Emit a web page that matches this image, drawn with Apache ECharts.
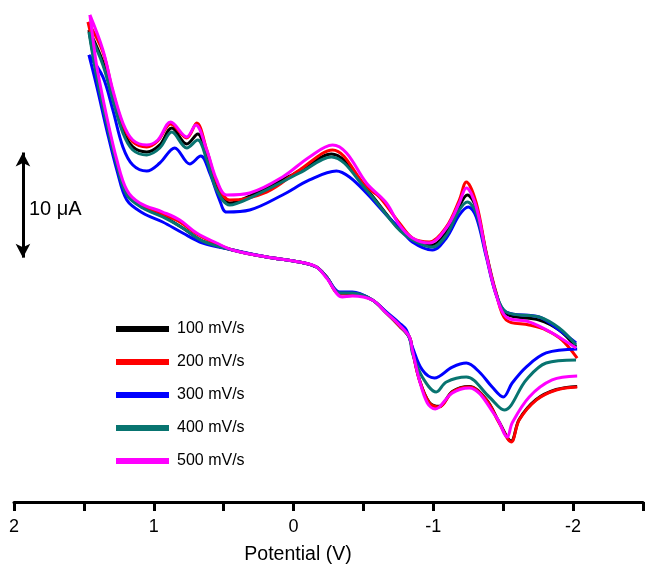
<!DOCTYPE html>
<html>
<head>
<meta charset="utf-8">
<script src="https://cdn.jsdelivr.net/npm/echarts@6/dist/echarts.min.js"></script>
<style>
  html, body { margin: 0; padding: 0; background: #fff; }
  #chart { width: 646px; height: 569px; }
</style>
</head>
<body>
<div id="chart"></div>
<script>
// Cyclic voltammograms at five scan rates. Points are [potential (V), current (µA)].
// Each scan is split into the forward (upper) branch and the return (lower) branch.
const scanRates = ['100 mV/s', '200 mV/s', '300 mV/s', '400 mV/s', '500 mV/s'];
const seriesColors = ['#000000', '#ff0000', '#0000ff', '#087470', '#ff00ff'];

const upper100 = [[1.464,25.91],[1.364,22.86],[1.293,19.53],[1.221,16.39],[1.150,14.78],[1.050,14.30],[0.957,14.97],[0.871,16.58],[0.764,15.06],[0.686,16.01],[0.621,13.83],[0.550,10.88],[0.457,9.45],[0.314,10.11],[-0.043,12.49],[-0.271,14.11],[-0.521,10.78],[-0.736,7.26],[-0.850,6.02],[-0.993,5.45],[-1.093,6.69],[-1.186,9.16],[-1.243,10.21],[-1.307,8.97],[-1.379,4.60],[-1.450,0.79],[-1.521,-1.11],[-1.757,-1.68],[-1.900,-2.64],[-2.021,-4.25]];
const lower100 = [[-2.029,-8.00],[-1.879,-8.30],[-1.736,-9.25],[-1.614,-11.15],[-1.557,-13.20],[-1.471,-11.40],[-1.379,-9.25],[-1.257,-8.00],[-1.136,-8.48],[-1.043,-9.90],[-0.971,-9.52],[-0.900,-7.35],[-0.850,-4.54],[-0.829,-3.30],[-0.757,-2.25],[-0.664,-1.02],[-0.564,0.22],[-0.421,0.88],[-0.329,0.88],[-0.236,2.41],[-0.164,3.36],[-0.043,3.83],[0.193,4.31],[0.436,4.98],[0.650,5.83],[0.793,7.07],[0.936,8.21],[1.079,9.07],[1.193,10.30],[1.264,13.16],[1.336,17.15],[1.407,21.63],[1.464,25.91]];

const upper200 = [[1.471,26.67],[1.364,23.82],[1.293,20.01],[1.221,16.87],[1.150,15.25],[1.050,14.78],[0.971,15.35],[0.879,16.96],[0.764,15.63],[0.693,17.06],[0.621,14.49],[0.550,11.45],[0.457,9.73],[0.193,10.49],[-0.043,12.59],[-0.279,14.49],[-0.521,10.97],[-0.614,10.02],[-0.757,7.55],[-0.850,6.12],[-0.971,5.74],[-1.093,7.17],[-1.186,9.73],[-1.236,11.45],[-1.307,9.45],[-1.379,4.69],[-1.450,0.88],[-1.521,-1.68],[-1.686,-2.16],[-1.807,-2.64],[-1.921,-3.59],[-2.029,-5.30]];
const lower200 = [[-2.029,-8.06],[-1.879,-8.34],[-1.736,-9.30],[-1.614,-11.20],[-1.557,-13.29],[-1.471,-11.48],[-1.379,-9.30],[-1.257,-8.06],[-1.136,-8.53],[-1.043,-9.96],[-0.971,-9.58],[-0.900,-7.39],[-0.850,-4.54],[-0.829,-3.30],[-0.757,-2.25],[-0.664,-1.02],[-0.564,0.22],[-0.421,0.79],[-0.329,0.79],[-0.236,2.41],[-0.164,3.36],[-0.043,3.83],[0.193,4.31],[0.436,4.98],[0.550,5.55],[0.693,6.50],[0.814,7.64],[0.936,8.40],[1.100,9.26],[1.193,10.40],[1.264,13.25],[1.336,17.34],[1.407,21.91],[1.443,24.96],[1.471,26.67]];

const upper300 = [[1.464,23.53],[1.364,21.44],[1.293,18.30],[1.221,14.78],[1.150,13.06],[1.050,12.49],[0.957,13.25],[0.850,14.68],[0.743,13.16],[0.664,13.92],[0.600,12.30],[0.529,9.73],[0.479,8.59],[0.314,8.78],[0.079,10.21],[-0.114,11.64],[-0.307,12.49],[-0.400,11.92],[-0.521,10.40],[-0.664,8.31],[-0.757,7.07],[-0.850,5.74],[-0.993,4.98],[-1.093,6.12],[-1.186,8.31],[-1.250,9.07],[-1.307,8.12],[-1.379,4.31],[-1.450,0.69],[-1.521,-0.92],[-1.757,-1.40],[-1.900,-2.64],[-2.021,-3.87]];
const lower300 = [[-2.029,-4.44],[-1.807,-4.82],[-1.664,-6.16],[-1.564,-7.68],[-1.500,-9.01],[-1.421,-8.06],[-1.329,-6.63],[-1.236,-5.78],[-1.136,-6.16],[-1.007,-7.20],[-0.921,-6.44],[-0.850,-4.25],[-0.807,-2.64],[-0.757,-1.97],[-0.664,-0.92],[-0.564,0.22],[-0.421,0.98],[-0.329,0.98],[-0.236,2.41],[-0.164,3.36],[-0.043,3.83],[0.193,4.31],[0.436,4.98],[0.650,5.64],[0.793,6.59],[0.936,7.64],[1.079,8.50],[1.193,9.73],[1.264,12.59],[1.336,16.39],[1.407,20.49],[1.464,23.53]];

const upper400 = [[1.464,25.72],[1.364,22.58],[1.293,19.25],[1.221,16.11],[1.150,14.49],[1.050,14.02],[0.957,14.68],[0.871,16.20],[0.764,14.68],[0.686,15.44],[0.621,13.54],[0.550,10.69],[0.457,9.26],[0.314,9.92],[-0.043,12.30],[-0.271,13.83],[-0.521,10.69],[-0.736,7.17],[-0.850,5.93],[-0.993,5.26],[-1.093,6.40],[-1.186,8.78],[-1.243,9.54],[-1.307,8.50],[-1.379,4.50],[-1.450,0.79],[-1.521,-0.92],[-1.757,-1.40],[-1.900,-2.45],[-2.021,-4.06]];
const lower400 = [[-2.021,-5.49],[-1.807,-5.78],[-1.664,-7.39],[-1.507,-10.25],[-1.400,-9.01],[-1.236,-7.11],[-1.093,-7.58],[-1.021,-8.53],[-0.921,-7.11],[-0.850,-4.82],[-0.829,-3.40],[-0.757,-2.16],[-0.664,-1.02],[-0.564,0.22],[-0.421,0.88],[-0.329,0.88],[-0.236,2.41],[-0.164,3.36],[-0.043,3.83],[0.193,4.31],[0.436,4.98],[0.650,5.83],[0.793,7.07],[0.936,8.12],[1.079,8.97],[1.193,10.21],[1.264,13.06],[1.336,16.96],[1.407,21.34],[1.464,25.72]];

const upper500 = [[1.457,27.34],[1.364,24.01],[1.293,20.20],[1.221,17.06],[1.150,15.44],[1.050,14.97],[0.971,15.44],[0.879,17.15],[0.764,15.73],[0.700,16.87],[0.621,14.49],[0.550,11.64],[0.479,10.21],[0.314,10.40],[0.079,11.92],[-0.114,13.83],[-0.279,14.97],[-0.379,14.21],[-0.521,11.35],[-0.664,9.45],[-0.757,7.36],[-0.850,6.12],[-0.971,5.64],[-1.093,7.07],[-1.186,9.45],[-1.236,10.88],[-1.307,9.07],[-1.379,4.50],[-1.450,0.69],[-1.521,-1.40],[-1.686,-1.87],[-1.850,-2.92],[-2.021,-4.35]];
const lower500 = [[-2.029,-7.01],[-1.850,-7.39],[-1.686,-9.01],[-1.564,-11.48],[-1.529,-12.82],[-1.450,-10.91],[-1.257,-8.15],[-1.136,-8.63],[-1.043,-9.96],[-1.014,-10.15],[-0.957,-9.58],[-0.900,-7.39],[-0.850,-4.54],[-0.829,-3.30],[-0.757,-2.16],[-0.664,-1.02],[-0.564,0.22],[-0.421,0.60],[-0.350,0.50],[-0.236,2.31],[-0.164,3.36],[-0.043,3.83],[0.193,4.31],[0.436,4.98],[0.550,5.64],[0.693,6.59],[0.814,7.83],[0.936,8.59],[1.100,9.45],[1.193,10.69],[1.264,13.54],[1.336,17.63],[1.407,22.39],[1.436,25.15],[1.457,27.34]];

const forwardBranches = [upper100, upper200, upper300, upper400, upper500];
const returnBranches = [lower100, lower200, lower300, lower400, lower500];

// Axis ticks: every 0.5 V, labelled only on whole volts
const xMin = -2.5, xMax = 2, xStep = 0.5;
const scaleBar = { potential: 1.936, from: 4.25, to: 14.25, label: '10 μA' };

const FONT = '"Liberation Sans", Arial, Helvetica, sans-serif';

const series = scanRates.map((name, i) => ({
  name: name,
  type: 'line',
  showSymbol: false,
  smooth: 0.35,
  connectNulls: false,
  color: seriesColors[i],
  lineStyle: { width: 3, color: seriesColors[i] },
  // a break between the two branches at the switching potential
  data: forwardBranches[i].concat([[forwardBranches[i][forwardBranches[i].length - 1][0], '-']], returnBranches[i]),
  z: 2 + i,
  animation: false
}));

// Current scale bar drawn on the hidden current axis
series.push({
  name: 'scale',
  type: 'line',
  data: [],
  silent: true,
  animation: false,
  markLine: {
    silent: true,
    animation: false,
    symbol: ['arrow', 'arrow'],
    symbolSize: [11, 14],
    label: { show: false },
    lineStyle: { color: '#000', width: 3, type: 'solid' },
    data: [[
      { coord: [scaleBar.potential, scaleBar.from] },
      { coord: [scaleBar.potential, scaleBar.to] }
    ]]
  }
});

const chart = echarts.init(document.getElementById('chart'), null, { renderer: 'canvas' });
chart.setOption({
  backgroundColor: '#ffffff',
  animation: false,
  grid: { left: 14, right: 2, top: 8, bottom: 67, containLabel: false },
  legend: {
    data: scanRates,
    orient: 'vertical',
    left: 116,
    top: 321,
    padding: 0,
    icon: 'rect',
    itemWidth: 53,
    itemHeight: 6,
    itemGap: 17,
    selectedMode: false,
    textStyle: { fontFamily: FONT, fontSize: 16, color: '#000', padding: [0, 0, 0, 3] }
  },
  xAxis: {
    type: 'value',
    inverse: true,
    min: xMin,
    max: xMax,
    interval: xStep,
    splitLine: { show: false },
    axisLine: { onZero: false, lineStyle: { color: '#000', width: 3 } },
    axisTick: { length: 9, lineStyle: { color: '#000', width: 3 } },
    axisLabel: {
      margin: 16,
      fontFamily: FONT,
      fontSize: 18,
      color: '#000',
      formatter: v => (Math.abs(v - Math.round(v)) < 1e-9 ? String(Math.round(v)) : '')
    }
  },
  yAxis: {
    type: 'value',
    min: -19,
    max: 28,
    show: false
  },
  graphic: [
    {
      type: 'text',
      x: 29,
      y: 209,
      style: { text: scaleBar.label, fontFamily: FONT, fontSize: 20, fill: '#000', textVerticalAlign: 'middle' }
    },
    {
      type: 'text',
      x: 298,
      y: 555,
      style: { text: 'Potential (V)', fontFamily: FONT, fontSize: 19.5, fill: '#000', textAlign: 'center', textVerticalAlign: 'middle' }
    }
  ],
  series: series
});
</script>
</body>
</html>
